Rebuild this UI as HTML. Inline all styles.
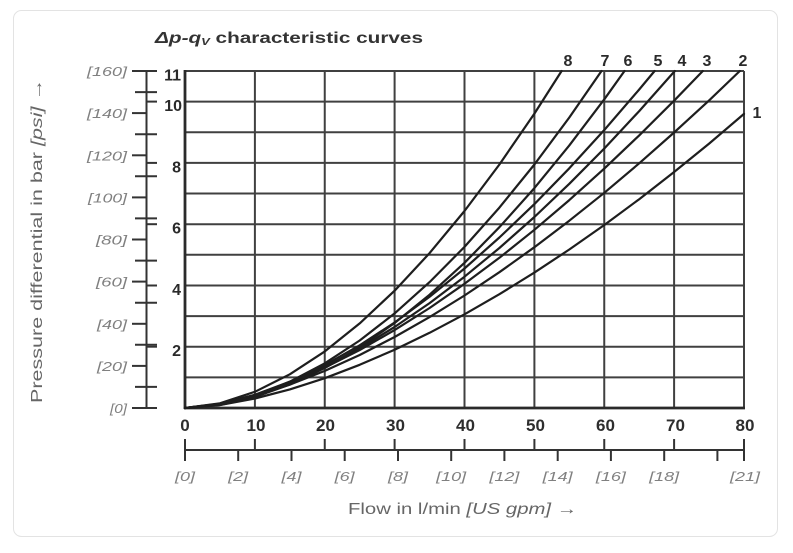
<!DOCTYPE html>
<html>
<head>
<meta charset="utf-8">
<style>
  html, body { margin:0; padding:0; background:#ffffff; }
  body { width:793px; height:553px; overflow:hidden; position:relative; }
  svg { position:absolute; left:0; top:0; }
  text { font-family:"Liberation Sans", "DejaVu Sans", sans-serif; }
</style>
</head>
<body>
<svg width="793" height="553" viewBox="0 0 793 553" xmlns="http://www.w3.org/2000/svg">
  <!-- card -->
  <rect x="13.5" y="10.5" width="764" height="526" rx="8" ry="8" fill="#ffffff" stroke="#e3e3e3" stroke-width="1"/>

  <!-- title -->
  <text x="155" y="43" font-size="16" font-weight="bold" fill="#333" textLength="268" lengthAdjust="spacingAndGlyphs"><tspan font-style="italic">Δp-q</tspan><tspan font-style="italic" font-size="10" dy="2">V</tspan><tspan dy="-2"> characteristic curves</tspan></text>

  <!-- grid -->
  <g stroke="#404040" stroke-width="2" fill="none">
    <line x1="254.9" y1="71" x2="254.9" y2="408"/>
    <line x1="324.75" y1="71" x2="324.75" y2="408"/>
    <line x1="394.6" y1="71" x2="394.6" y2="408"/>
    <line x1="464.5" y1="71" x2="464.5" y2="408"/>
    <line x1="534.4" y1="71" x2="534.4" y2="408"/>
    <line x1="604.25" y1="71" x2="604.25" y2="408"/>
    <line x1="674.1" y1="71" x2="674.1" y2="408"/>
    <line x1="744" y1="71" x2="744" y2="408"/>
    <line x1="185" y1="377.4" x2="744" y2="377.4"/>
    <line x1="185" y1="346.7" x2="744" y2="346.7"/>
    <line x1="185" y1="316.1" x2="744" y2="316.1"/>
    <line x1="185" y1="285.5" x2="744" y2="285.5"/>
    <line x1="185" y1="254.8" x2="744" y2="254.8"/>
    <line x1="185" y1="224.2" x2="744" y2="224.2"/>
    <line x1="185" y1="193.5" x2="744" y2="193.5"/>
    <line x1="185" y1="162.9" x2="744" y2="162.9"/>
    <line x1="185" y1="132.3" x2="744" y2="132.3"/>
    <line x1="185" y1="101.6" x2="744" y2="101.6"/>
    <line x1="185" y1="71" x2="744" y2="71"/>
  </g>
  <g stroke="#2a2a2a" stroke-width="2.8" fill="none">
    <line x1="185" y1="70" x2="185" y2="409"/>
    <line x1="184" y1="408" x2="745" y2="408"/>
  </g>

  <!-- curves -->
  <g stroke="#1e1e1e" stroke-width="2.2" fill="none" stroke-linejoin="round" stroke-linecap="round">
    <polyline points="185,408 219.9,403.3 254.9,391.8 289.8,374.3 324.8,351.4 359.7,323.4 394.6,290.7 429.6,253.1 464.5,211.0 499.4,164.5 534.4,113.6 561.6,71"/>
    <polyline points="185,408 219.9,404.6 254.9,395.6 289.8,381.7 324.8,363.3 359.7,340.5 394.6,313.4 429.6,282.1 464.5,246.9 499.4,207.6 534.4,164.5 569.3,117.5 601.5,71"/>
    <polyline points="185,408 219.9,405.0 254.9,397.0 289.8,384.6 324.8,368.0 359.7,347.4 394.6,323.0 429.6,294.7 464.5,262.8 499.4,227.2 534.4,188.1 569.3,145.4 604.3,99.3 624.5,71"/>
    <polyline points="185,408 219.9,403.9 254.9,394.8 289.8,381.7 324.8,365.1 359.7,345.3 394.6,322.5 429.6,296.8 464.5,268.5 499.4,237.5 534.4,204.1 569.3,168.3 604.3,130.0 639.2,89.5 654.6,71"/>
    <polyline points="185,408 219.9,404.0 254.9,395.2 289.8,382.7 324.8,367.0 359.7,348.4 394.6,327.0 429.6,303.1 464.5,276.7 499.4,248.0 534.4,217.0 569.3,183.8 604.3,148.5 639.2,111.1 674.8,71"/>
    <polyline points="185,408 219.9,403.7 254.9,394.9 289.8,382.7 324.8,367.6 359.7,350.0 394.6,330.1 429.6,308.0 464.5,283.8 499.4,257.8 534.4,229.8 569.3,200.1 604.3,168.6 639.2,135.4 674.1,100.7 702.8,71"/>
    <polyline points="185,408 219.9,404.0 254.9,395.8 289.8,384.6 324.8,370.9 359.7,355.0 394.6,337.0 429.6,317.1 464.5,295.5 499.4,272.2 534.4,247.2 569.3,220.7 604.3,192.8 639.2,163.3 674.1,132.5 709.1,100.4 739.8,71"/>
    <polyline points="185,408 219.9,405.0 254.9,398.5 289.8,389.4 324.8,378.2 359.7,364.8 394.6,349.7 429.6,332.8 464.5,314.3 499.4,294.2 534.4,272.6 569.3,249.5 604.3,225.0 639.2,199.2 674.1,172.0 709.1,143.6 744,113.9"/>
  </g>

  <!-- curve labels -->
  <g font-size="16" font-weight="bold" fill="#2a2a2a" text-anchor="middle">
    <text x="568" y="66">8</text>
    <text x="605" y="66">7</text>
    <text x="628" y="66">6</text>
    <text x="658" y="66">5</text>
    <text x="682" y="66">4</text>
    <text x="707" y="66">3</text>
    <text x="743" y="66">2</text>
    <text x="757" y="118">1</text>
  </g>

  <!-- left axis -->
  <g stroke="#333" stroke-width="2" fill="none">
    <line x1="146.5" y1="70" x2="146.5" y2="409"/>
    <line x1="132" y1="71" x2="157" y2="71"/>
    <line x1="132" y1="113.1" x2="146.5" y2="113.1"/>
    <line x1="132" y1="155.3" x2="146.5" y2="155.3"/>
    <line x1="132" y1="197.4" x2="146.5" y2="197.4"/>
    <line x1="132" y1="239.5" x2="146.5" y2="239.5"/>
    <line x1="132" y1="281.6" x2="146.5" y2="281.6"/>
    <line x1="132" y1="323.8" x2="146.5" y2="323.8"/>
    <line x1="132" y1="365.9" x2="146.5" y2="365.9"/>
    <line x1="132" y1="408" x2="157" y2="408"/>
    <line x1="135" y1="92.1" x2="157" y2="92.1"/>
    <line x1="135" y1="134.2" x2="157" y2="134.2"/>
    <line x1="135" y1="176.3" x2="157" y2="176.3"/>
    <line x1="135" y1="218.4" x2="157" y2="218.4"/>
    <line x1="135" y1="260.6" x2="157" y2="260.6"/>
    <line x1="135" y1="302.7" x2="157" y2="302.7"/>
    <line x1="135" y1="344.8" x2="157" y2="344.8"/>
    <line x1="135" y1="386.9" x2="157" y2="386.9"/>
    <line x1="146.5" y1="101.6" x2="157" y2="101.6"/>
    <line x1="146.5" y1="162.9" x2="157" y2="162.9"/>
    <line x1="146.5" y1="224.2" x2="157" y2="224.2"/>
    <line x1="146.5" y1="285.5" x2="157" y2="285.5"/>
    <line x1="146.5" y1="346.7" x2="157" y2="346.7"/>
  </g>

  <!-- psi labels -->
  <g font-size="13" font-style="italic" fill="#808080" text-anchor="end">
    <text x="127" y="76" textLength="40" lengthAdjust="spacingAndGlyphs">[160]</text>
    <text x="127" y="118.1" textLength="40" lengthAdjust="spacingAndGlyphs">[140]</text>
    <text x="127" y="160.3" textLength="40" lengthAdjust="spacingAndGlyphs">[120]</text>
    <text x="127" y="202.4" textLength="39" lengthAdjust="spacingAndGlyphs">[100]</text>
    <text x="127" y="244.5" textLength="31" lengthAdjust="spacingAndGlyphs">[80]</text>
    <text x="127" y="286.6" textLength="31" lengthAdjust="spacingAndGlyphs">[60]</text>
    <text x="127" y="328.8" textLength="30" lengthAdjust="spacingAndGlyphs">[40]</text>
    <text x="127" y="370.9" textLength="30" lengthAdjust="spacingAndGlyphs">[20]</text>
    <text x="127" y="413" textLength="17" lengthAdjust="spacingAndGlyphs">[0]</text>
  </g>

  <!-- bar labels -->
  <g font-size="16" font-weight="bold" fill="#2a2a2a" text-anchor="end">
    <text x="181" y="80.5">11</text>
    <text x="182" y="111.1">10</text>
    <text x="181" y="172.4">8</text>
    <text x="181" y="233.7">6</text>
    <text x="181" y="295">4</text>
    <text x="181" y="356.2">2</text>
  </g>

  <!-- y axis title -->
  <text transform="translate(42,403) rotate(-90)" x="0" y="0" font-size="16" fill="#666" textLength="324" lengthAdjust="spacingAndGlyphs">Pressure differential in bar <tspan font-style="italic">[psi]</tspan> →</text>

  <!-- x labels l/min -->
  <g font-size="17" font-weight="bold" fill="#2e2e2e" text-anchor="middle">
    <text x="185" y="431">0</text>
    <text x="256" y="431">10</text>
    <text x="325.5" y="431">20</text>
    <text x="395.5" y="431">30</text>
    <text x="465.5" y="431">40</text>
    <text x="535.5" y="431">50</text>
    <text x="605.5" y="431">60</text>
    <text x="675.5" y="431">70</text>
    <text x="745" y="431">80</text>
  </g>

  <!-- bottom secondary axis -->
  <g stroke="#333" stroke-width="2" fill="none">
    <line x1="184" y1="450" x2="745" y2="450"/>
    <line x1="185" y1="439" x2="185" y2="450"/>
    <line x1="254.9" y1="439" x2="254.9" y2="450"/>
    <line x1="324.75" y1="439" x2="324.75" y2="450"/>
    <line x1="394.6" y1="439" x2="394.6" y2="450"/>
    <line x1="464.5" y1="439" x2="464.5" y2="450"/>
    <line x1="534.4" y1="439" x2="534.4" y2="450"/>
    <line x1="604.25" y1="439" x2="604.25" y2="450"/>
    <line x1="674.1" y1="439" x2="674.1" y2="450"/>
    <line x1="744" y1="439" x2="744" y2="450"/>
    <line x1="185" y1="450" x2="185" y2="461"/>
    <line x1="238.2" y1="450" x2="238.2" y2="461"/>
    <line x1="291.5" y1="450" x2="291.5" y2="461"/>
    <line x1="344.7" y1="450" x2="344.7" y2="461"/>
    <line x1="398" y1="450" x2="398" y2="461"/>
    <line x1="451.2" y1="450" x2="451.2" y2="461"/>
    <line x1="504.4" y1="450" x2="504.4" y2="461"/>
    <line x1="557.7" y1="450" x2="557.7" y2="461"/>
    <line x1="610.9" y1="450" x2="610.9" y2="461"/>
    <line x1="664.2" y1="450" x2="664.2" y2="461"/>
    <line x1="717.4" y1="450" x2="717.4" y2="461"/>
    <line x1="744" y1="450" x2="744" y2="461"/>
  </g>

  <!-- gpm labels -->
  <g font-size="13" font-style="italic" fill="#808080" text-anchor="middle">
    <text x="185" y="481" textLength="20" lengthAdjust="spacingAndGlyphs">[0]</text>
    <text x="238.2" y="481" textLength="20" lengthAdjust="spacingAndGlyphs">[2]</text>
    <text x="291.5" y="481" textLength="20" lengthAdjust="spacingAndGlyphs">[4]</text>
    <text x="344.7" y="481" textLength="20" lengthAdjust="spacingAndGlyphs">[6]</text>
    <text x="398" y="481" textLength="20" lengthAdjust="spacingAndGlyphs">[8]</text>
    <text x="451.2" y="481" textLength="30" lengthAdjust="spacingAndGlyphs">[10]</text>
    <text x="504.4" y="481" textLength="30" lengthAdjust="spacingAndGlyphs">[12]</text>
    <text x="557.7" y="481" textLength="30" lengthAdjust="spacingAndGlyphs">[14]</text>
    <text x="610.9" y="481" textLength="30" lengthAdjust="spacingAndGlyphs">[16]</text>
    <text x="664.2" y="481" textLength="30" lengthAdjust="spacingAndGlyphs">[18]</text>
    <text x="745" y="481" textLength="30" lengthAdjust="spacingAndGlyphs">[21]</text>
  </g>

  <!-- x axis title -->
  <text x="348" y="514" font-size="16" fill="#666" textLength="229" lengthAdjust="spacingAndGlyphs">Flow in l/min <tspan font-style="italic">[US gpm]</tspan> →</text>
</svg>
</body>
</html>
